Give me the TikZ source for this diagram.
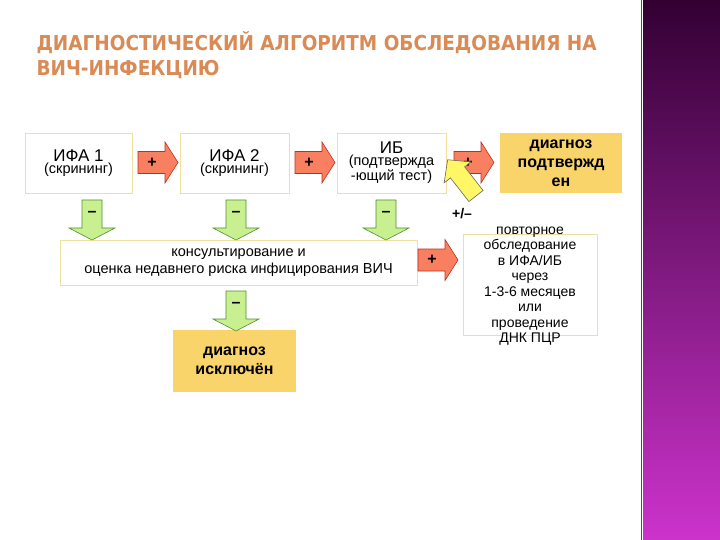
\documentclass[tikz,border=0pt]{standalone}
\usepackage{fontspec}
\setmainfont{Liberation Sans}
\newfontfamily\titlefont{DejaVu Sans Condensed}
\definecolor{boxline}{HTML}{F0E0A0}
\definecolor{gold}{HTML}{F9D46B}
\definecolor{redf}{HTML}{F88060}
\definecolor{redd}{HTML}{C03020}
\definecolor{greenf}{HTML}{C8F090}
\definecolor{greend}{HTML}{509030}
\definecolor{titlec}{HTML}{D98A55}
\tikzset{
  box/.style={draw=boxline, line width=0.8pt, fill=white, align=center, inner sep=2pt},
  goldbox/.style={fill=gold, align=center, font=\bfseries\fontsize{16}{19}\selectfont},
  redarr/.style={draw=redd, fill=redf, line width=0.6pt},
  greenarr/.style={draw=greend, fill=greenf, line width=0.6pt},
  yelarr/.style={draw=black!60, fill=yellow!60, line width=0.6pt},
  sign/.style={font=\bfseries\fontsize{16}{18}\selectfont},
}
\newcommand\redarrow[3]{%
  \draw[redarr, shift={(#1,#2)}] (0,-11) -- (27,-11) -- (27,-20.5) -- (40,0) -- (27,20.5) -- (27,11) -- (0,11) -- cycle;
  \node[sign] (#3) at (#1+14,#2) {+};}
\newcommand\greenarrow[3]{%
  \draw[greenarr, shift={(#1,#2)}] (-10,0) -- (10,0) -- (10,28) -- (23,28) -- (0,40) -- (-23,28) -- (-10,28) -- cycle;
  \node[sign] (#3) at (#1,#2+14) {–};}
\begin{document}
\begin{tikzpicture}[x=1pt,y=-1pt]
\useasboundingbox (0,0) rectangle (720,540);
\fill[white] (0,0) rectangle (720,540);
\shade[top color=black!60!magenta!50!black, bottom color=magenta!50!violet!80!white] (643,0) rectangle (720,540);
\draw[black!70, line width=0.6pt] (641,0) -- (641,540);
\node[anchor=north west, align=left, text=titlec, font=\titlefont\bfseries\fontsize{20.5}{25}\selectfont] (title) at (33,28) {ДИАГНОСТИЧЕСКИЙ АЛГОРИТМ ОБСЛЕДОВАНИЯ НА\\ВИЧ-ИНФЕКЦИЮ};

\node[box, minimum width=107pt, minimum height=60pt] (ifa1) at (78.5,163) {\fontsize{17}{20}\selectfont ИФА 1\\\fontsize{14.5}{18}\selectfont (скрининг)};
\node[box, minimum width=109pt, minimum height=60pt] (ifa2) at (234.5,163) {\fontsize{17}{20}\selectfont ИФА 2\\\fontsize{14.5}{18}\selectfont (скрининг)};
\node[box, minimum width=109pt, minimum height=60pt] (ib) at (391.5,163) {\fontsize{17}{20}\selectfont ИБ\\\fontsize{14.5}{16}\selectfont (подтвержда\\\fontsize{14.5}{16}\selectfont -ющий тест)};
\node[goldbox, minimum width=122pt, minimum height=60pt] (dx) at (561,163) {диагноз\\подтвержд\\ен};
\node[box, minimum width=357pt, minimum height=45pt, font=\fontsize{14.5}{17}\selectfont] (cons) at (238.5,262.5) {консультирование и\\оценка недавнего риска инфицирования ВИЧ};
\node[goldbox, minimum width=123pt, minimum height=62pt] (excl) at (234.5,361) {диагноз\\исключён};
\node[box, minimum width=134pt, minimum height=101pt] (rep) at (530,284.5) {};
\node[align=center, font=\fontsize{14}{15.5}\selectfont] (reptext) at (530,286) {повторное\\обследование\\в ИФА/ИБ\\через\\1-3-6 месяцев\\или\\проведение\\ДНК ПЦР};

\redarrow{138}{162.5}{r1}
\redarrow{295}{162.5}{r2}
\redarrow{454}{162.5}{r3}
\redarrow{418}{260}{r4}
\greenarrow{92}{200}{g1}
\greenarrow{236}{200}{g2}
\greenarrow{386}{200}{g3}
\greenarrow{236}{291}{g4}
\draw[yelarr, shift={(476,196)}, rotate=128] (0,-9) -- (30,-9) -- (30,-17) -- (46,0) -- (30,17) -- (30,9) -- (0,9) -- cycle;
\node[font=\bfseries\fontsize{14}{16}\selectfont] (y1) at (462,214) {+/–};
\end{tikzpicture}
\end{document}
